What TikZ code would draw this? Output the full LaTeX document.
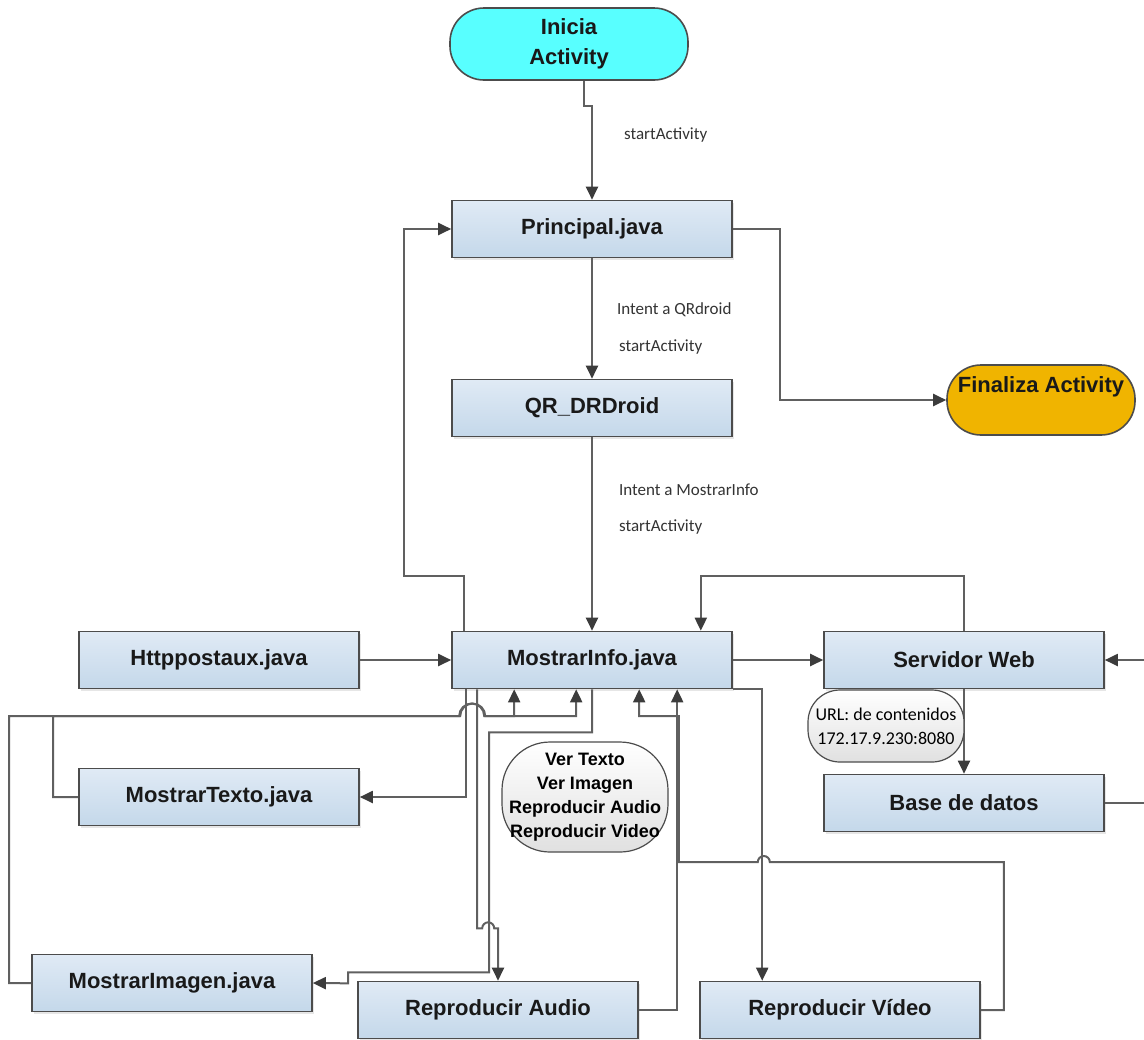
\documentclass[tikz,border=0pt]{standalone}
\usepackage{fontspec}
\setsansfont{Liberation Sans}
\newfontfamily\notefont{Carlito}
\usepackage{tikz}
\usetikzlibrary{arrows.meta,calc,shadows}
\definecolor{boxtop}{RGB}{224,234,245}
\definecolor{boxbot}{RGB}{196,216,234}
\definecolor{linegray}{RGB}{96,96,96}
\definecolor{tipgray}{RGB}{60,60,60}
\definecolor{startcyan}{RGB}{88,255,255}
\definecolor{endgold}{RGB}{240,180,0}

\begin{document}
\begin{tikzpicture}[
  x=0.5pt, y=0.5pt,
  block/.style={rectangle, draw=black!70, line width=0.8pt,
                minimum width=140pt, minimum height=28.5pt,
                top color=boxtop, bottom color=boxbot,
                font=\sffamily\bfseries\fontsize{11}{13}\selectfont, text=black!90,
                drop shadow={shadow xshift=1pt, shadow yshift=-1pt, opacity=0.2}},
  term/.style={rectangle, draw=black!70, line width=0.8pt, rounded corners=17pt,
               align=center, fill=#1, text=black!90,
               font=\sffamily\bfseries\fontsize{11}{15}\selectfont},
  bubble/.style={rectangle, draw=black!70, line width=0.6pt, align=center,
                 top color=white, bottom color=black!12, inner sep=1pt},
  arrow/.style={-{Triangle[length=6.5pt,width=6pt,color=tipgray]},
                line width=1pt, color=linegray},
  note/.style={font=\notefont\fontsize{8.5}{10}\selectfont, text=black!80, anchor=west}
]
  \path[use as bounding box] (0,0) rectangle (1144,-1039);
  \clip (0,0) rectangle (1144,-1039);

  \node[term=startcyan, minimum width=119pt, minimum height=36pt] (ini) at (569,-44) {Inicia\\Activity};
  \node[term=endgold, minimum width=94pt, minimum height=35pt] (fin) at (1041,-400) {Finaliza Activity\\\mbox{}};

  \node[block] (principal) at (592,-229) {Principal.java};
  \node[block] (qr) at (592,-408) {QR\_DRDroid};
  \node[block] (info) at (592,-660) {MostrarInfo.java};
  \node[block] (http) at (219,-660) {Httppostaux.java};
  \node[block] (servidor) at (964,-660) {Servidor Web};
  \node[block] (base) at (964,-803) {Base de datos};
  \node[block] (texto) at (219,-797) {MostrarTexto.java};
  \node[block] (imagen) at (172,-983) {MostrarImagen.java};
  \node[block] (audio) at (498,-1010) {Reproducir Audio};
  \node[block] (video) at (840,-1010) {Reproducir Vídeo};

  \node[note] (lbla) at (617,-135) {startActivity};
  \node[note] (lblb) at (610,-310) {Intent a QRdroid};
  \node[note] (lblc) at (612,-347) {startActivity};
  \node[note] (lbld) at (612,-490) {Intent a MostrarInfo};
  \node[note] (lble) at (612,-527) {startActivity};

  \draw[arrow] ([xshift=7.5pt]ini.south) -- ++(0,-25) -| (principal);
  \draw[arrow] (principal) -- (qr);
  \draw[arrow] (qr) -- (info);
  \draw[arrow] (principal.east) -- ++(47,0) |- (fin.west);
  \draw[arrow] ($(info.north west)+(13,0)$) |- ++(-60,55) |- (principal.west);

  \draw[arrow] (http) -- (info);
  \draw[arrow] (info) -- (servidor);
  \draw[arrow] (servidor.north) -- ++(0,55) -| ($(info.north east)+(-32,0)$);
  \draw[arrow] (servidor) -- (base);
  \draw[arrow] (base.east) -- ++(60,0) |- (servidor.east);

  \draw[arrow] ($(info.south west)+(15,0)$) |- (texto.east);
  \draw[arrow] (texto.west) -| ++(-25,81) -- ++(406,0)
    arc[start angle=180, end angle=0, radius=12.5] -| ($(info.south west)+(63,0)$);
  \draw[arrow] (imagen.west) -| ++(-22,267) -- ++(451,0)
    arc[start angle=180, end angle=0, radius=12.5] -| ($(info.south west)+(125,0)$);
  \draw[arrow] (info.south) -- ++(0,-43) -| ++(-103,-240) -| ++(-141,-11) -- (imagen.east);
  \draw[arrow] ($(info.south west)+(26,0)$) -- ++(0,-239) -- ++(5,0)
    arc[start angle=180, end angle=0, radius=6] -| (audio.north);
  \draw[arrow] (info.south east) -| ($(video.north west)+(63,0)$);
  \draw[arrow] (audio.east) -| ($(info.south west)+(226,0)$);
  \draw[arrow] (video.east) -| ++(23,148) -- ++(-234,0)
    arc[start angle=0, end angle=180, radius=6] -| ++(-79,146) -| ($(info.south west)+(188,0)$);

  \node[bubble, rounded corners=24pt, minimum width=83pt, minimum height=55pt,
        font=\sffamily\bfseries\fontsize{9}{12}\selectfont] (menu) at (585,-797)
        {Ver Texto\\Ver Imagen\\Reproducir Audio\\Reproducir Video};
  \node[bubble, rounded corners=16pt, minimum width=78pt, minimum height=36pt,
        font=\notefont\fontsize{9}{12}\selectfont] (url) at (886,-726)
        {URL: de contenidos\\172.17.9.230:8080};
\end{tikzpicture}
\end{document}
